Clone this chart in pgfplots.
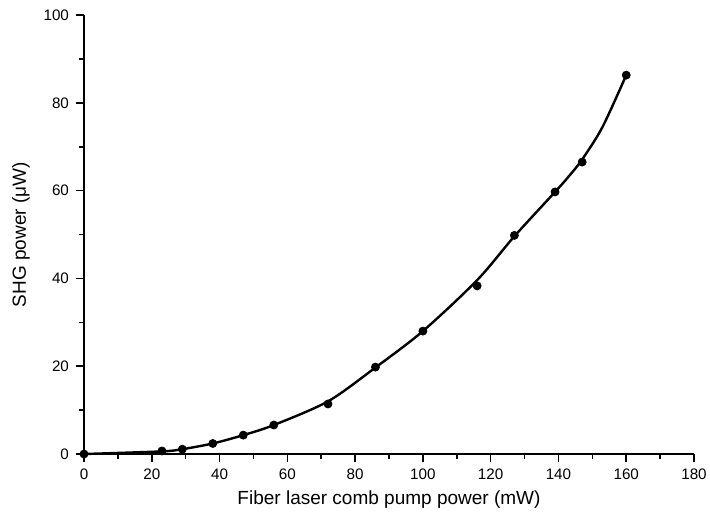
\documentclass[border=0pt]{standalone}
\usepackage{fontspec}
\setmainfont{Liberation Sans}
\usepackage{pgfplots}
\pgfplotsset{compat=1.18}
\begin{document}
\begin{tikzpicture}
\begin{axis}[
  scale only axis,
  width=305pt, height=219.5pt,
  xmin=0, xmax=180, ymin=0, ymax=100,
  axis x line=bottom, axis y line=left,
  axis line style={line width=1pt, -},
  xtick={0,20,...,180}, ytick={0,20,...,100},
  minor x tick num=1, minor y tick num=1,
  tick align=outside,
  major tick length=4pt, minor tick length=2.5pt,
  every tick/.style={black, line width=0.8pt},
  tick label style={font=\fontsize{7.6pt}{9pt}\selectfont},
  /pgf/number format/assume math mode=true,
  xlabel={Fiber laser comb pump power (mW)},
  ylabel={SHG power (μW)},
  label style={font=\fontsize{9.5pt}{11pt}\selectfont},
  xlabel style={yshift=1.5pt},
  ylabel style={yshift=0pt},
  clip=false,
]
\addplot[black, line width=1.2pt, smooth, tension=0.5] coordinates {
(0,0) (23,0.6) (29,1.1) (38,2.4) (47,4.3) (56,6.6) (72,12.0) (86,19.7)
(100,28.0) (116,39.6) (127,49.6) (139,59.7) (143,63.2) (147,67.1) (153,74.5) (160,86.3)
};
\addplot[only marks, mark=*, mark size=2pt, black] coordinates {
(0,0) (23,0.7) (29,1.1) (38,2.4) (47,4.3) (56,6.6) (72,11.4) (86,19.8)
(100,28.0) (116,38.3) (127,49.8) (139,59.7) (147,66.5) (160,86.3)
};
\end{axis}
\pgfresetboundingbox
\path ([shift={(-42pt,-33.5pt)}]current axis.south west) rectangle ([shift={(8pt,7.5pt)}]current axis.north east);
\end{tikzpicture}
\end{document}
